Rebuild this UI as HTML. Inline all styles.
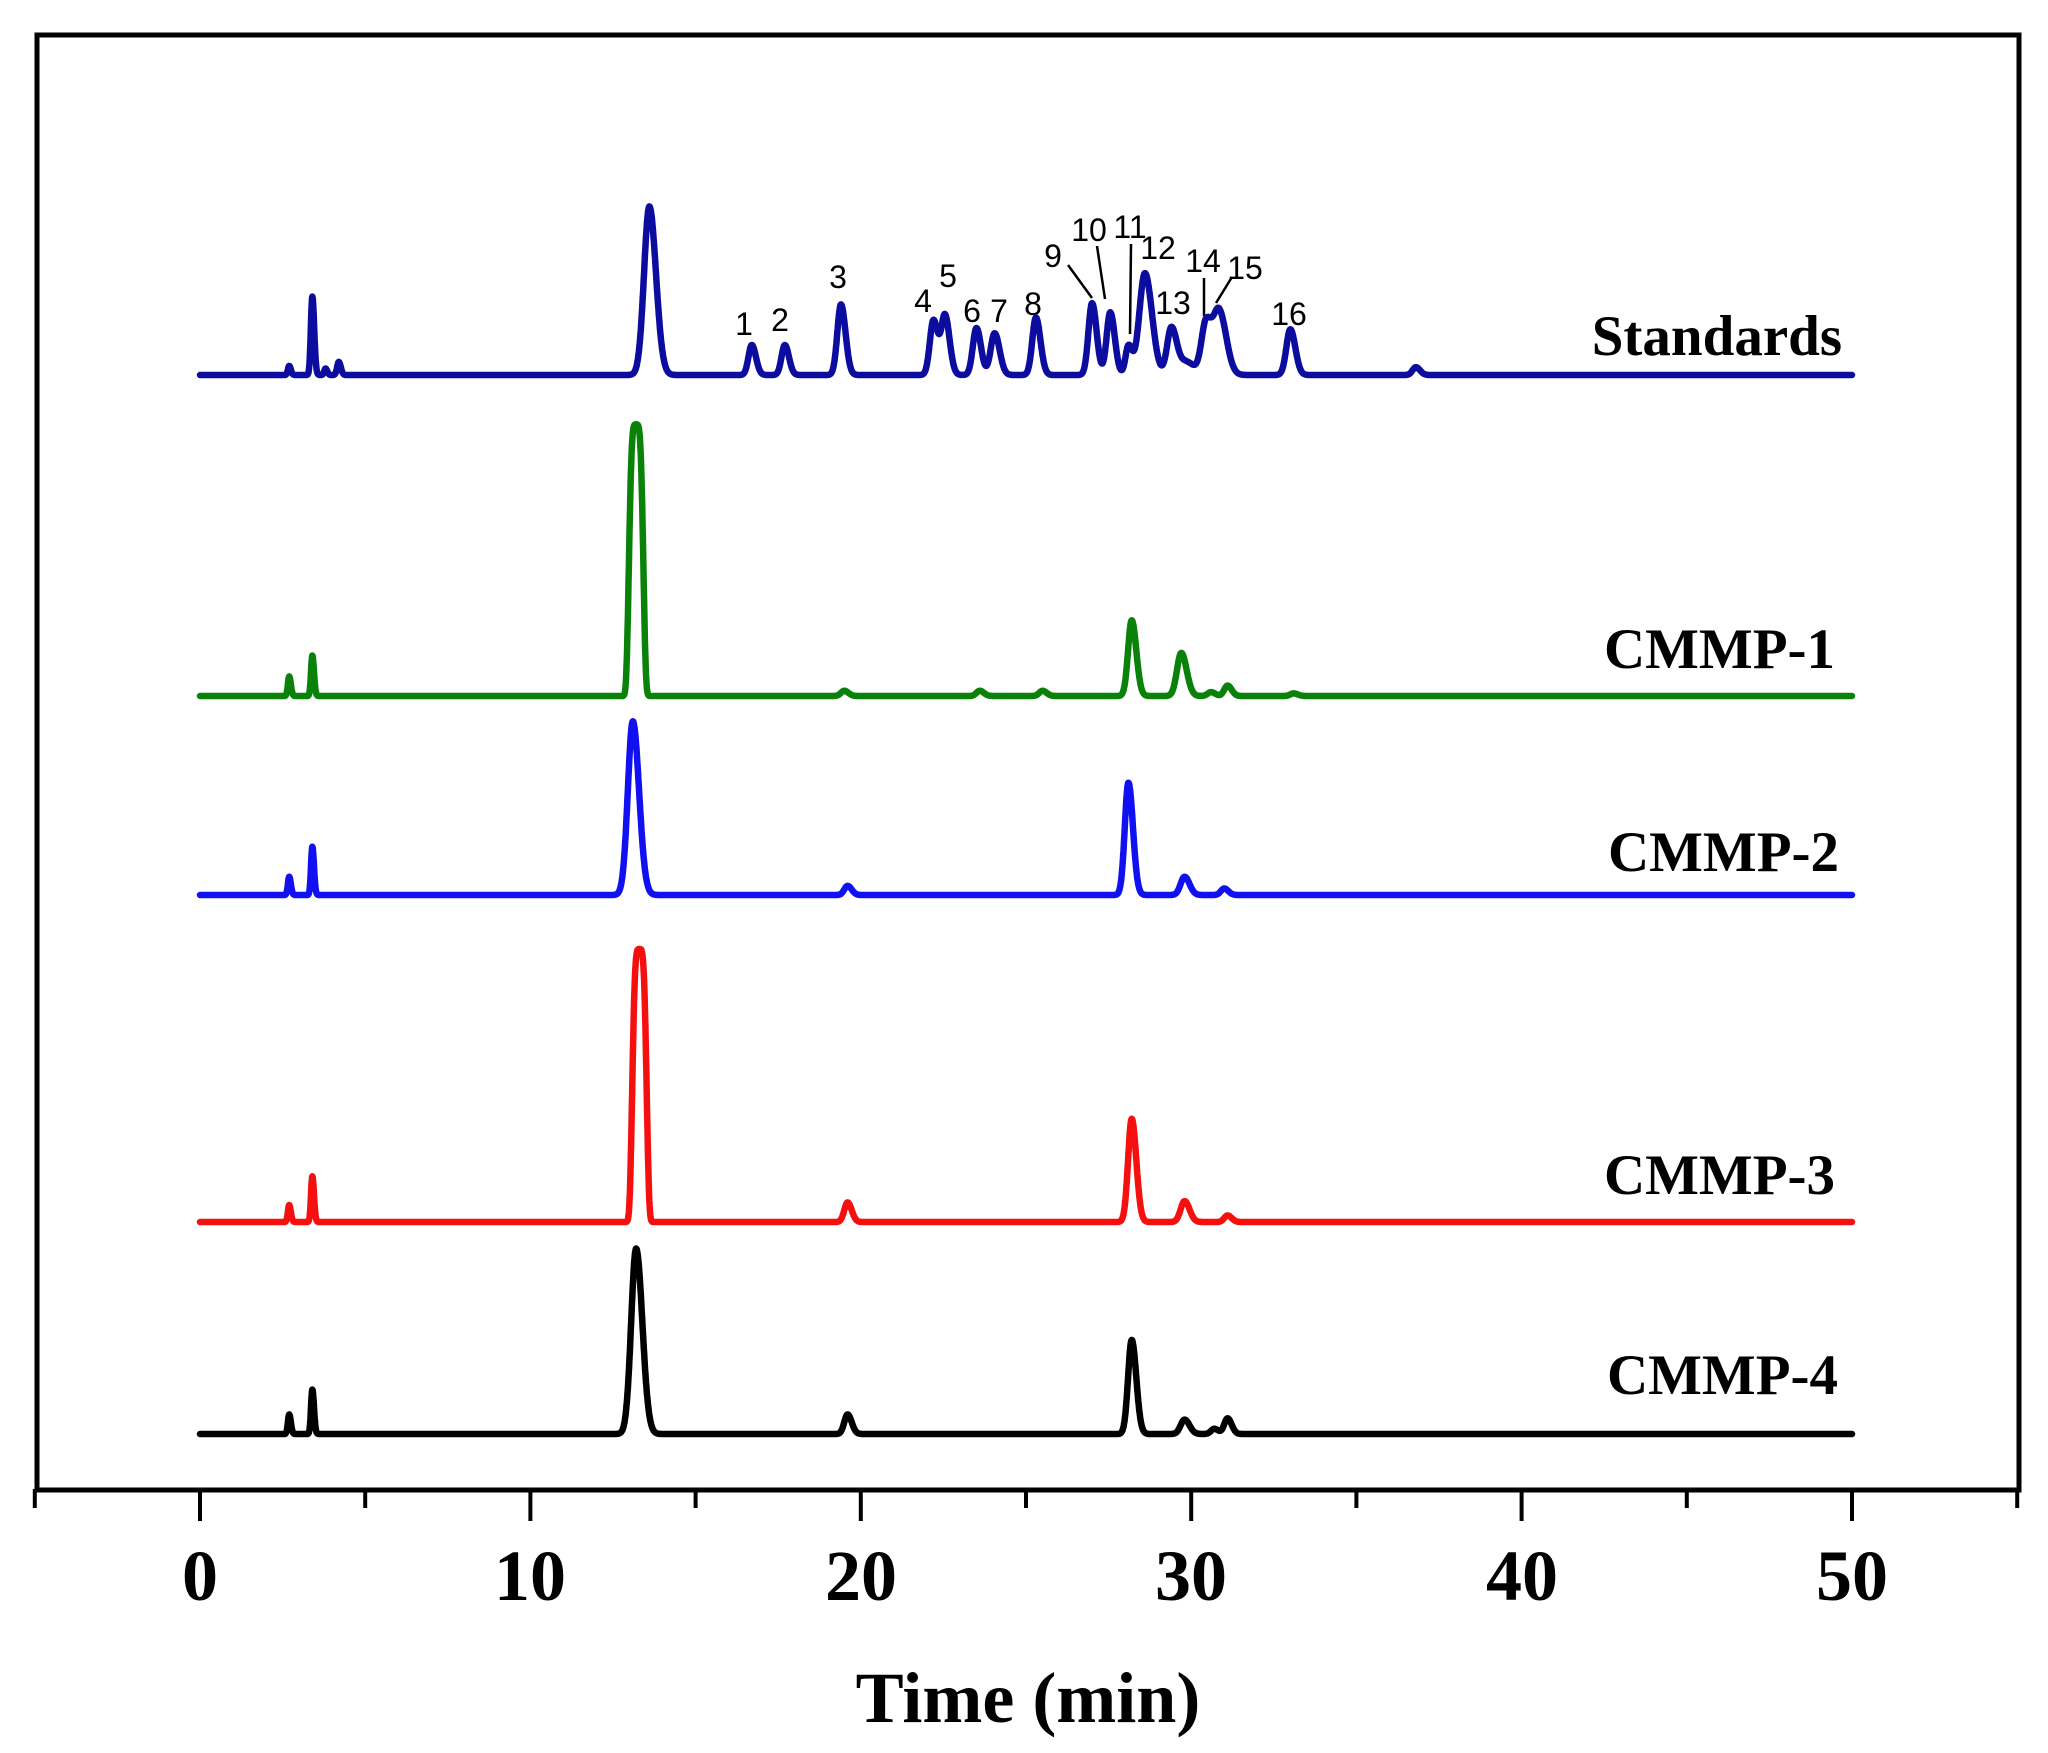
<!DOCTYPE html>
<html><head><meta charset="utf-8"><style>
html,body{margin:0;padding:0;background:#fff;}
svg{display:block;}
text{font-family:"Liberation Serif",serif;}
</style></head><body>
<svg id="s" width="2048" height="1753" viewBox="0 0 2048 1753" xmlns="http://www.w3.org/2000/svg">
<rect x="37" y="35" width="1982" height="1455" fill="none" stroke="#000" stroke-width="5"/>
<g stroke="#000" stroke-width="4" id="ticks"></g>
<g font-size="72" font-weight="bold" text-anchor="middle">
<text x="200" y="1600">0</text><text x="530" y="1600">10</text><text x="861" y="1600">20</text>
<text x="1191" y="1600">30</text><text x="1522" y="1600">40</text><text x="1852" y="1600">50</text>
<text x="1028" y="1722">Time (min)</text>
</g>
<g font-size="57" font-weight="bold" text-anchor="end">
<text x="1842" y="355">Standards</text>
<text x="1835" y="668">CMMP-1</text>
<text x="1839" y="871">CMMP-2</text>
<text x="1835" y="1194">CMMP-3</text>
<text x="1838" y="1394">CMMP-4</text>
</g>
<g font-size="32" text-anchor="middle">
<text x="744" y="335" style="font-family:'Liberation Sans',sans-serif">1</text>
<text x="780" y="331" style="font-family:'Liberation Sans',sans-serif">2</text>
<text x="838" y="288" style="font-family:'Liberation Sans',sans-serif">3</text>
<text x="923" y="312" style="font-family:'Liberation Sans',sans-serif">4</text>
<text x="948" y="287" style="font-family:'Liberation Sans',sans-serif">5</text>
<text x="972" y="322" style="font-family:'Liberation Sans',sans-serif">6</text>
<text x="999" y="322" style="font-family:'Liberation Sans',sans-serif">7</text>
<text x="1033" y="315" style="font-family:'Liberation Sans',sans-serif">8</text>
<text x="1053" y="267" style="font-family:'Liberation Sans',sans-serif">9</text>
<text x="1089" y="241" style="font-family:'Liberation Sans',sans-serif">10</text>
<text x="1130" y="238" style="font-family:'Liberation Sans',sans-serif">11</text>
<text x="1158" y="259" style="font-family:'Liberation Sans',sans-serif">12</text>
<text x="1173" y="314" style="font-family:'Liberation Sans',sans-serif">13</text>
<text x="1203" y="272" style="font-family:'Liberation Sans',sans-serif">14</text>
<text x="1245" y="279" style="font-family:'Liberation Sans',sans-serif">15</text>
<text x="1289" y="325" style="font-family:'Liberation Sans',sans-serif">16</text>
</g>
<g stroke="#000" stroke-width="2.5">
<line x1="1068" y1="265" x2="1092" y2="298"/>
<line x1="1097" y1="246" x2="1105" y2="299"/>
<line x1="1131" y1="244" x2="1130" y2="334"/>
<line x1="1204" y1="278" x2="1204" y2="316"/>
<line x1="1232" y1="277" x2="1216" y2="303"/>
</g>
<g id="curves" fill="none" stroke-width="6.5" stroke-linejoin="round" stroke-linecap="round"></g>
</svg>
<script>
var NS="http://www.w3.org/2000/svg";
function X(t){return 200+t*33.04;}
var tk=document.getElementById("ticks");
for(var t=-5;t<=55;t+=5){var l=document.createElementNS(NS,"line");l.setAttribute("x1",X(t));l.setAttribute("x2",X(t));l.setAttribute("y1",1489);l.setAttribute("y2",t%10==0?1521:1508);tk.appendChild(l);}
var K=1.306;
var series=[
 {c:"#0c0c9e",b:375,p:[[2.7,7,.04],[3.4,60,.045],[3.8,5,.04],[4.2,10,.05],[13.6,129,.16],[16.7,23,.1],[17.7,23,.1],[19.4,54,.11],[22.2,42,.11],[22.55,45,.11],[23.5,36,.11],[24.05,32,.12],[25.3,44,.11],[27.0,55,.11],[27.55,48,.11],[28.1,22,.09],[28.6,78,.17],[29.4,36,.13],[29.85,10,.2],[30.45,40,.14],[30.85,48,.17],[33.0,35,.12],[36.8,6,.1]]},
 {c:"#0a820a",b:696,p:[[2.7,15,.04],[3.4,31,.04],[13.2,208,.2,4],[19.5,4,.1],[23.6,4,.1],[25.5,4,.1],[28.2,58,.11],[29.7,33,.13],[30.6,3,.1],[31.1,8,.1],[33.1,2,.1]]},
 {c:"#1010f0",b:895,p:[[2.7,14,.04],[3.4,37,.04],[13.1,133,.15],[19.6,7,.1],[28.1,86,.11],[29.8,14,.12],[31.0,5,.1]]},
 {c:"#f51010",b:1222,p:[[2.7,13,.04],[3.4,35,.04],[13.3,209,.2,4],[19.6,15,.1],[28.2,79,.11],[29.8,16,.12],[31.1,5,.1]]},
 {c:"#000",b:1434,p:[[2.7,15,.04],[3.4,34,.04],[13.2,142,.15],[19.6,15,.1],[28.2,72,.11],[29.8,11,.12],[30.7,4,.1],[31.1,12,.1]]}
];
var g=document.getElementById("curves");
series.forEach(function(s){
 var d="";
 for(var t=0;t<=50.0001;t+=0.01){
  var y=0;
  s.p.forEach(function(p){var z=Math.abs(t-p[0])/p[2];var pw=p[3]||2;
   if(t>p[0] && !p[3]) z=z/1.25;
   y+=p[1]*Math.exp(-0.5*Math.pow(z,pw));});
  d+=(d?"L":"M")+X(t).toFixed(1)+","+(s.b-y*K).toFixed(1);
 }
 var path=document.createElementNS(NS,"path");path.setAttribute("d",d);path.setAttribute("stroke",s.c);g.appendChild(path);
});
</script>
</body></html>
